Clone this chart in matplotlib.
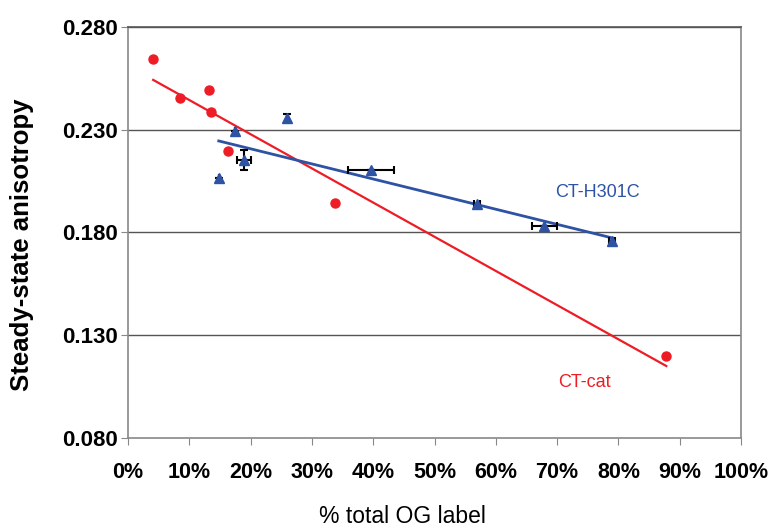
import numpy as np
import matplotlib.pyplot as plt
from matplotlib.ticker import PercentFormatter

# CT-cat (red circles)
cat_x = [4.1, 8.5, 13.2, 13.5, 16.3, 33.8, 87.8]
cat_y = [0.2644, 0.2455, 0.2493, 0.2386, 0.2197, 0.1944, 0.1199]
cat_fit_x = [4.1, 87.8]
cat_fit_y = [0.2542, 0.1150]

# CT-H301C (blue triangles)
h_x = [14.8, 17.5, 18.9, 25.9, 39.6, 56.9, 67.9, 79.0]
h_y = [0.2065, 0.2294, 0.2153, 0.2357, 0.2104, 0.1939, 0.1832, 0.1759]
h_xerr = [0.0, 0.0, 1.2, 0.0, 3.8, 0.5, 2.0, 0.5]
h_yerr = [0.0, 0.0, 0.005, 0.002, 0.0, 0.0, 0.0, 0.0]
h_fit_x = [14.8, 79.0]
h_fit_y = [0.2245, 0.1773]

yticks = [0.080, 0.130, 0.180, 0.230, 0.280]
xticks = list(range(0, 101, 10))

red = '#ee1c25'
blue = '#2e52a4'

plt.rcParams['font.family'] = ['Liberation Sans', 'DejaVu Sans']

fig = plt.figure(figsize=(7.76, 5.27), dpi=100)
ax = fig.add_axes([0.165, 0.169, 0.79, 0.78])

for y in yticks[1:]:
    ax.axhline(y, color='#555555', lw=1.0, zorder=1)

ax.plot(cat_fit_x, cat_fit_y, color=red, lw=1.6, zorder=2)
ax.plot(h_fit_x, h_fit_y, color=blue, lw=2.0, zorder=2)

ax.errorbar(h_x, h_y, xerr=h_xerr, yerr=h_yerr, fmt='none', ecolor='black',
            elinewidth=1.5, capsize=3, capthick=1.5, zorder=3)
ax.plot(h_x, h_y, '^', color=blue, ms=7, zorder=4)
ax.plot(cat_x, cat_y, 'o', color=red, ms=6.5, mec=red, zorder=4)

ax.text(69.6, 0.1995, 'CT-H301C', color=blue, fontsize=13, va='center')
ax.text(70.1, 0.1068, 'CT-cat', color=red, fontsize=13, va='center')

ax.set_xlim(0, 100)
ax.set_ylim(0.080, 0.280)
ax.set_xticks(xticks)
ax.set_yticks(yticks)
ax.xaxis.set_major_formatter(PercentFormatter(decimals=0))
ax.set_yticklabels(['%.3f' % v for v in yticks])
ax.tick_params(direction='out', length=5, color='#888888', labelsize=16, pad=2)
ax.tick_params(axis='x', pad=12, labelsize=15.5)
for lab in ax.get_xticklabels() + ax.get_yticklabels():
    lab.set_fontweight('bold')

for s in ax.spines.values():
    s.set_color('#888888')
    s.set_linewidth(1.2)
ax.spines['top'].set_color('#555555')

ax.set_ylabel('Steady-state anisotropy', fontsize=18.5, fontweight='bold')
ax.yaxis.set_label_coords(-0.173, 0.47)
ax.yaxis.label.set_va('center')
ax.set_xlabel('% total OG label', fontsize=16.5)
ax.xaxis.set_label_coords(0.447, -0.192)
ax.xaxis.label.set_va('center')

fig.savefig('out.png', dpi=100)
